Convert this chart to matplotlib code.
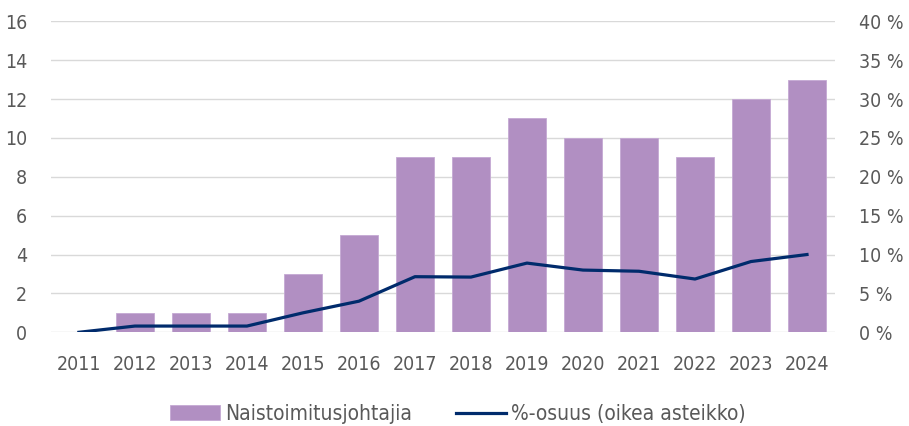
import matplotlib.pyplot as plt
from matplotlib import font_manager
from matplotlib.ticker import FuncFormatter

vuodet = ['2011', '2012', '2013', '2014', '2015', '2016', '2017',
          '2018', '2019', '2020', '2021', '2022', '2023', '2024']
naisia = [0, 1, 1, 1, 3, 5, 9, 9, 11, 10, 10, 9, 12, 13]
osuus = [0.0, 0.8, 0.8, 0.8, 2.5, 4.0, 7.15, 7.1, 8.9, 8.0, 7.85, 6.85, 9.1, 10.0]

# kapea fontti jos sellainen loytyy
kapeat = [f for f in font_manager.fontManager.ttflist
          if 'condensed' in str(f.stretch).lower() or 'Condensed' in f.fname or 'Narrow' in f.name]
plt.rcParams['font.family'] = ['DejaVu Sans']
if kapeat:
    plt.rcParams['font.family'] = [kapeat[0].name, 'DejaVu Sans']
    plt.rcParams['font.stretch'] = 'condensed'
harmaa = '#595959'

fig = plt.figure(figsize=(9.09, 4.26), dpi=100)
ax = fig.add_axes([0.056, 0.22, 0.8626, 0.73])
ax2 = ax.twinx()

x = range(len(vuodet))
palkit = ax.bar(x, naisia, width=0.68, color='#B18FC2', edgecolor='#C4A9D3',
                linewidth=0.6, label='Naistoimitusjohtajia', zorder=2)
viiva, = ax2.plot(x, osuus, color='#002B6C', linewidth=2.3,
                  label='%-osuus (oikea asteikko)', zorder=3)

ax.set_xlim(-0.5, len(vuodet) - 0.5)
ax.set_ylim(0, 16)
ax.set_yticks(range(0, 17, 2))
ax2.set_ylim(0, 40)
ax2.set_yticks(range(0, 41, 5))
ax2.yaxis.set_major_formatter(FuncFormatter(lambda v, p: f'{v:.0f} %'))

ax.set_xticks(list(x))
ax.set_xticklabels(vuodet)
ax.grid(axis='y', color='#D9D9D9', linewidth=1.0, zorder=0)
ax.set_axisbelow(True)

for a in (ax, ax2):
    for s in a.spines.values():
        s.set_visible(False)
    a.tick_params(length=0, labelsize=14, colors=harmaa)
ax.tick_params(axis='y', pad=17)
ax.tick_params(axis='x', pad=16)
ax2.tick_params(axis='y', pad=17)

fig.legend(handles=[palkit, viiva], loc='center', bbox_to_anchor=(0.504, 0.028),
           ncol=2, frameon=False, fontsize=15, labelcolor=harmaa,
           handlelength=2.4, handleheight=0.7, handletextpad=0.25, columnspacing=2.1)

fig.savefig('out.png', dpi=100)
